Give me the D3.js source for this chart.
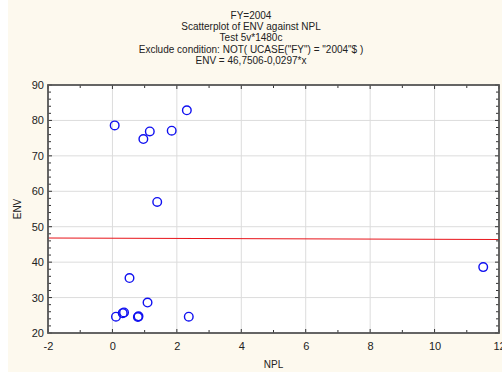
<!DOCTYPE html>
<html><head><meta charset="utf-8">
<script src="https://cdn.jsdelivr.net/npm/d3@7"></script>
<style>body{margin:0;background:#fff}svg{display:block}text{font-family:"Liberation Sans",Arial,sans-serif;fill:#222}</style>
</head><body><svg id="c" width="502" height="372"></svg>
<script>
const titleLines = ["FY=2004","Scatterplot of ENV against NPL","Test 5v*1480c","Exclude condition: NOT( UCASE(\"FY\") = \"2004\"$ )","ENV = 46,7506-0,0297*x"];
const npl = [0.07,0.96,1.16,1.84,2.31,1.39,0.53,1.09,0.11,0.32,0.36,0.79,0.81,2.37,11.51];
const env = [78.6,74.75,76.9,77.1,82.85,57.0,35.5,28.6,24.6,25.6,25.8,24.5,24.7,24.6,38.6];
const xTicks = [-2,0,2,4,6,8,10,12];
const yTicks = [20,30,40,50,60,70,80,90];
const intercept = 46.7506, slope = -0.0297;

const svg = d3.select("#c");
const L=48,R=499,T=85,B=333;
svg.append("rect").attr("x",8).attr("y",0).attr("width",494).attr("height",372).attr("fill","#fdf9ee");
svg.append("rect").attr("x",L).attr("y",T).attr("width",R-L).attr("height",B-T).attr("fill","#fff");
const x=d3.scaleLinear().domain([-2,12]).range([L,R]);
const y=d3.scaleLinear().domain([20,90]).range([B,T]);
svg.append("g").selectAll("line").data(xTicks.slice(1,-1)).join("line")
 .attr("x1",d=>x(d)).attr("x2",d=>x(d)).attr("y1",T).attr("y2",B).attr("stroke","#dcdcdc").attr("stroke-width",1);
svg.append("g").selectAll("line").data(yTicks.slice(1,-1)).join("line")
 .attr("y1",d=>y(d)).attr("y2",d=>y(d)).attr("x1",L).attr("x2",R).attr("stroke","#dcdcdc").attr("stroke-width",1);
svg.append("line").attr("x1",x(-2)).attr("x2",x(12)).attr("y1",y(intercept+slope*-2)).attr("y2",y(intercept+slope*12))
 .attr("stroke","#e8151b").attr("stroke-width",1.2);
svg.append("g").selectAll("circle").data(npl.map((v,i)=>[v,env[i]])).join("circle")
 .attr("cx",d=>x(d[0])).attr("cy",d=>y(d[1])).attr("r",4.3).attr("fill","none").attr("stroke","#1010f0").attr("stroke-width",1.4);
const minorX=d3.range(-2,12.01,1), minorY=d3.range(20,90.01,2);
const tk=svg.append("g").attr("stroke","#333").attr("stroke-width",1);
minorX.forEach(v=>{const l=v%2===0?4:3;tk.append("line").attr("x1",x(v)).attr("x2",x(v)).attr("y1",B).attr("y2",B-l);tk.append("line").attr("x1",x(v)).attr("x2",x(v)).attr("y1",T).attr("y2",T+l);});
minorY.forEach(v=>{const l=v%10===0?4:3;tk.append("line").attr("y1",y(v)).attr("y2",y(v)).attr("x1",L).attr("x2",L+l);tk.append("line").attr("y1",y(v)).attr("y2",y(v)).attr("x1",R).attr("x2",R-l);});
svg.append("rect").attr("x",L).attr("y",T).attr("width",R-L).attr("height",B-T).attr("fill","none").attr("stroke","#555").attr("stroke-width",1.8);
const xa=svg.append("g").attr("transform",`translate(0,${B})`).call(d3.axisBottom(x).tickValues(xTicks).tickFormat(d=>String(d)).tickSize(0).tickPadding(9));
xa.select(".domain").remove();
xa.selectAll("text").attr("font-size",11).style("font-family","Liberation Sans, Arial, sans-serif").attr("fill","#222");
const ya=svg.append("g").attr("transform",`translate(${L},0)`).call(d3.axisLeft(y).tickValues(yTicks).tickFormat(d=>String(d)).tickSize(0).tickPadding(4));
ya.select(".domain").remove();
ya.selectAll("text").attr("font-size",11).style("font-family","Liberation Sans, Arial, sans-serif").attr("fill","#222");
svg.append("text").attr("x",(L+R)/2).attr("y",368).attr("text-anchor","middle").attr("font-size",10).text("NPL");
svg.append("text").attr("transform",`translate(21,${(T+B)/2}) rotate(-90)`).attr("text-anchor","middle").attr("font-size",10).text("ENV");
svg.append("g").selectAll("text").data(titleLines).join("text").attr("x",251).attr("y",(d,i)=>18.5+i*11.4)
 .attr("text-anchor","middle").attr("font-size",10).text(d=>d);
</script></body></html>
